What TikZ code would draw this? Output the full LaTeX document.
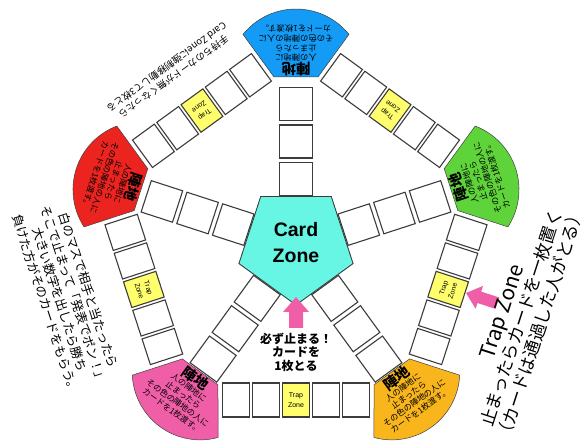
\documentclass[tikz,border=0pt]{standalone}
\usepackage{fontspec}
\setmainfont{Liberation Sans}
\newfontfamily\jp{Noto Sans CJK JP}
\usetikzlibrary{calc}
\definecolor{cblue}{RGB}{20,155,245}
\definecolor{cgreen}{RGB}{95,212,58}
\definecolor{cred}{RGB}{236,36,32}
\definecolor{cpink}{RGB}{240,94,168}
\definecolor{corange}{RGB}{248,182,28}
\definecolor{ccyan}{RGB}{104,246,228}
\definecolor{cyellow}{RGB}{255,255,110}
\definecolor{cline}{RGB}{60,60,60}
\tikzset{
  cell/.style={draw=cline, line width=1.1pt, fill=white, inner sep=0pt, transform shape},
  ringcell/.style={cell, minimum width=27pt, minimum height=34pt},
  trapcell/.style={ringcell, fill=cyellow, font=\fontsize{7}{9.5}\selectfont, align=center},
  spokecell/.style={cell, minimum width=33pt, minimum height=33pt},
  cornerpiece/.style={draw=black!75, line width=0.5pt},
  cornertext/.style={transform shape, anchor=north, align=center, inner sep=1pt,
    font=\jp\fontsize{8.3}{9.6}\selectfont},
  blockarrow/.style={fill=cpink, draw=none},
}
\begin{document}
\begin{tikzpicture}[x=1pt,y=1pt]
\useasboundingbox (-296,-201) rectangle (287,240);
\clip (-296,-201) rectangle (287,240);
% ring cells
\foreach \n in {-90,-18,54,126,198} {
  \begin{scope}[rotate=\n+90]
    \foreach \k in {-2,-1,1,2} {
      \node[ringcell] (r\n\k) at (\k*30,-160) {};
    }
    \node[trapcell] (t\n) at (0,-160) {Trap\\Zone};
  \end{scope}
}
% spokes
\foreach \a in {90,18,-54,-126,162} {
  \begin{scope}[shift={(0,-5)}, rotate=\a+90]
    \node[spokecell] (s\a a) at (0,-66) {};
    \node[spokecell] (s\a b) at (0,-103.5) {};
    \node[spokecell] (s\a c) at (0,-141) {};
  \end{scope}
}
% corners
\foreach \a/\c in {90/cblue,18/cgreen,-54/corange,-126/cpink,162/cred} {
  \begin{scope}[rotate=\a+90]
    \path[cornerpiece, fill=\c] (-22,-163) -- (22,-163) -- (53,-205.6)
      arc[start angle=-38.8, end angle=-141.2, radius=68] -- cycle;
    \node[cornertext] (k\a) at (0,-163)
      {{\fontsize{14.5}{15}\selectfont\bfseries 陣地}\\[-1pt]
       人の陣地に\\止まったら\\その色の陣地の人に\\カードを1枚渡す。};
  \end{scope}
}
% card zone
\begin{scope}[shift={(0,-5)}]
  \draw[fill=ccyan, draw=cline, line width=0.9pt]
    (-90:60) -- (-18:60) -- (54:60) -- (126:60) -- (198:60) -- cycle;
\end{scope}
\node[font=\bfseries\fontsize{19.5}{26}\selectfont, align=center] (cz) at (0,-3) {Card\\Zone};
% arrows
\path[blockarrow] (0,-57) -- (13,-72) -- (7,-72) -- (7,-88) -- (-7,-88) -- (-7,-72) -- (-13,-72) -- cycle;
\begin{scope}[shift={(170,-53)}, rotate=162]
  \path[blockarrow] (0,0) -- (-14,12) -- (-14,6) -- (-33,6) -- (-33,-6) -- (-14,-6) -- (-14,-12) -- cycle;
\end{scope}
% texts
\node[font=\jp\bfseries\fontsize{12}{13.5}\selectfont, align=center] (must) at (0,-112)
  {必ず止まる！\\カードを\\1枚とる};
\node[font=\jp\fontsize{17.5}{20}\selectfont, align=center, rotate=72] (trapnote) at (225,-78)
  {{\fontsize{21}{20}\selectfont Trap Zone}\\止まったらカードを一枚置く\\（カードは通過した人がとる）};
\node[font=\jp\fontsize{12.5}{15}\selectfont, align=center, rotate=-72] (battle) at (-229,-57)
  {白のマスで相手と当たったら\\そこで止まって「発表でポン！」\\大きい数字を出したら勝ち\\負けた方がそのカードをもらう。};
\node[font=\jp\fontsize{9.5}{12}\selectfont, align=center, rotate=216] (empty) at (-126,168)
  {手持ちのカードが無くなったら\\Card Zoneに強制移動して3枚とる};
\end{tikzpicture}
\end{document}
